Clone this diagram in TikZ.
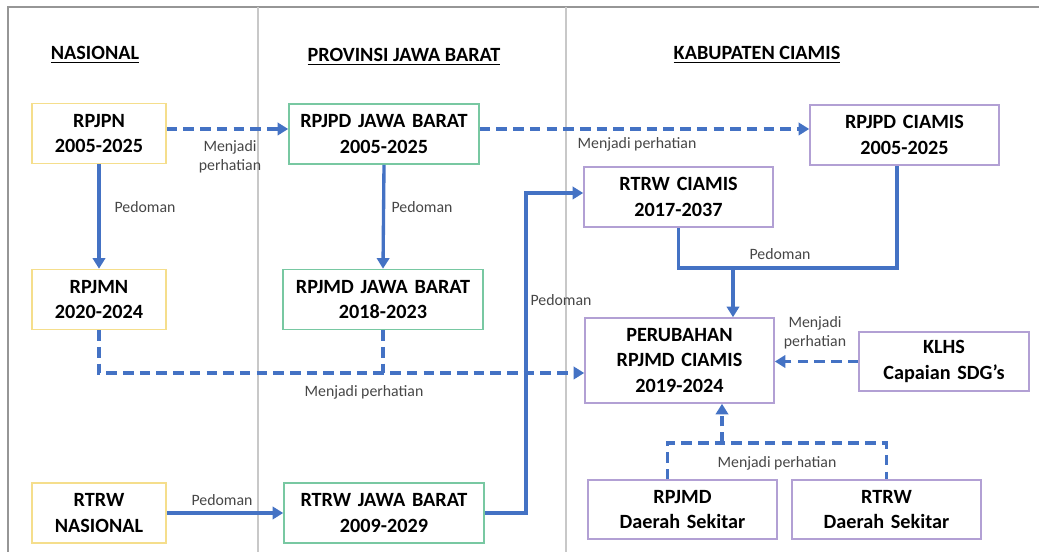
\documentclass[tikz,border=0pt]{standalone}
\usepackage{fontspec}
\setmainfont{Carlito}
\usepackage{tikz}
\usetikzlibrary{arrows.meta, positioning, calc}
\definecolor{myblue}{RGB}{68,114,196}
\definecolor{myyellow}{RGB}{245,222,140}
\definecolor{mygreen}{RGB}{120,200,162}
\definecolor{mypurple}{RGB}{178,160,212}
\definecolor{mygrid}{RGB}{200,200,200}
\definecolor{myframe}{RGB}{150,150,150}
\definecolor{mytext}{RGB}{70,70,70}
\tikzset{
  nasblock/.style={rectangle, draw=myyellow, fill=white, text width=2.5cm,
    align=center, minimum width=2.68cm, minimum height=1.2cm,
    font=\fontsize{11.5}{14.5}\selectfont\bfseries, line width=0.9pt, inner sep=0pt},
  provblock/.style={nasblock, draw=mygreen},
  kabblock/.style={nasblock, draw=mypurple, minimum width=3.78cm, text width=3.6cm},
  hdr/.style={font=\fontsize{11.5}{14}\selectfont\bfseries},
  lbl/.style={font=\fontsize{9}{11}\selectfont, color=mytext, align=center},
  arrow/.style={-{Triangle[length=6pt, width=7pt]}, line width=1.9pt, color=myblue},
  line/.style={line width=1.9pt, color=myblue},
  dasharrow/.style={arrow, dash pattern=on 6pt off 3.5pt},
  dashline/.style={line, dash pattern=on 6pt off 3.5pt}
}
\begin{document}
\begin{tikzpicture}
  \useasboundingbox (0,0) rectangle (20.78,-11.04);

  % frame and columns
  \draw[myframe, line width=1.1pt] (20.78,-0.14) -- (0.16,-0.14) -- (0.16,-11.04);
  \draw[mygrid, line width=0.6pt] (5.16,-0.14) -- (5.16,-11.04);
  \draw[mygrid, line width=0.6pt] (11.32,-0.14) -- (11.32,-11.04);

  \node[hdr] (hnas) at (1.9,-1.1) {\underline{NASIONAL}};
  \node[hdr] (hprov) at (8.08,-1.14) {\underline{PROVINSI JAWA BARAT}};
  \node[hdr] (hkab) at (15.14,-1.1) {\underline{KABUPATEN CIAMIS}};

  % nasional
  \node[nasblock] (rpjpn) at (1.98,-2.67) {RPJPN\\2005-2025};
  \node[nasblock] (rpjmn) at (1.98,-5.99) {RPJMN\\2020-2024};
  \node[nasblock] (rtrwnas) at (1.98,-10.26) {RTRW\\NASIONAL};

  % provinsi
  \node[provblock, minimum width=3.8cm, text width=3.7cm] (rpjpdjb) at (7.68,-2.68) {RPJPD JAWA BARAT\\2005-2025};
  \node[provblock, minimum width=4cm, text width=3.9cm] (rpjmdjb) at (7.66,-5.99) {RPJMD JAWA BARAT\\2018-2023};
  \node[provblock, minimum width=4cm, text width=3.9cm] (rtrwjb) at (7.68,-10.26) {RTRW JAWA BARAT\\2009-2029};

  % kabupaten
  \node[kabblock] (rtrwciamis) at (13.57,-3.94) {RTRW CIAMIS\\2017-2037};
  \node[kabblock] (rpjpdciamis) at (18.09,-2.7) {RPJPD CIAMIS\\2005-2025};
  \node[kabblock, minimum height=1.7cm] (perubahan) at (13.59,-7.21) {PERUBAHAN\\RPJMD CIAMIS\\2019-2024};
  \node[kabblock, minimum width=3.4cm, text width=3.3cm, minimum height=1.18cm] (klhs) at (18.88,-7.23) {KLHS\\Capaian SDG’s};
  \node[kabblock, minimum height=1.18cm] (rpjmdds) at (13.65,-10.19) {RPJMD\\Daerah Sekitar};
  \node[kabblock, minimum height=1.18cm] (rtrwds) at (17.73,-10.19) {RTRW\\Daerah Sekitar};

  % junctions
  \coordinate (pdj) at (14.66,-5.36);
  \coordinate (bend) at (10.52,-3.86);
  \coordinate (mpj) at (1.98,-7.46);
  \coordinate (dsj) at (14.44,-8.86);

  % connectors
  \draw[dasharrow] ([yshift=0.09cm]rpjpn.east) -- ([yshift=0.09cm]rpjpn.east -| rpjpdjb.west);
  \draw[dasharrow] ([yshift=0.1cm]rpjpdjb.east) -- ([yshift=0.1cm]rpjpdjb.east -| rpjpdciamis.west);
  \draw[arrow] (rpjpn.south) -- (rpjmn.north);
  \draw[arrow] (rpjpdjb.south) -- (rpjmdjb.north);
  \draw[line] (rtrwciamis.south) |- (pdj) -| ([xshift=-0.15cm]rpjpdciamis.south);
  \draw[arrow] (pdj) -- (perubahan.north -| pdj);
  \draw[dasharrow] (rpjmn.south) |- ([yshift=-0.25cm]perubahan.west);
  \draw[dashline] (rpjmdjb.south) -- (rpjmdjb.south |- mpj);
  \draw[arrow] (rtrwnas.east) -- (rtrwjb.west);
  \draw[arrow] (rtrwjb.east) -| (bend) -- (bend -| rtrwciamis.west);
  \draw[dasharrow] (klhs.west) -- (klhs.west -| perubahan.east);
  \draw[dashline] ([xshift=-0.3cm]rpjmdds.north) |- (dsj) -| (rtrwds.north);
  \draw[dasharrow] (dsj) -- (perubahan.south -| dsj);

  % labels
  \node[lbl] (l1) at (4.6,-3.14) {Menjadi\\perhatian};
  \node[lbl] (l2) at (2.9,-4.14) {Pedoman};
  \node[lbl] (l3) at (8.44,-4.14) {Pedoman};
  \node[lbl] (l4) at (12.74,-2.88) {Menjadi perhatian};
  \node[lbl] (l5) at (15.6,-5.08) {Pedoman};
  \node[lbl] (l6) at (11.22,-6.0) {Pedoman};
  \node[lbl] (l7) at (16.3,-6.66) {Menjadi\\perhatian};
  \node[lbl] (l8) at (7.28,-7.84) {Menjadi perhatian};
  \node[lbl] (l9) at (4.44,-10.0) {Pedoman};
  \node[lbl] (l10) at (15.54,-9.26) {Menjadi perhatian};
\end{tikzpicture}
\end{document}
